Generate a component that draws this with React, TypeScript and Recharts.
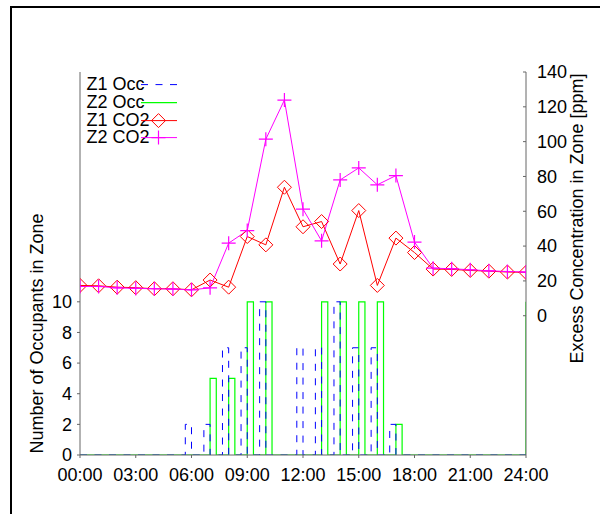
import React from 'react';
import { ComposedChart, Line, XAxis, YAxis, Legend } from 'recharts';

const FONT = '"Liberation Sans", Arial, Helvetica, sans-serif';

// x axis: minutes since midnight
const timeTicks = [0, 180, 360, 540, 720, 900, 1080, 1260, 1440];
const occTicks = [0, 2, 4, 6, 8, 10];
const co2Ticks = [0, 20, 40, 60, 80, 100, 120, 140];

const seriesNames = ['Z1 Occ', 'Z2 Occ', 'Z1 CO2', 'Z2 CO2'];

// occupancy step changes (minute of day, occupants)
const z1OccTimes = [0, 340, 360, 400, 420, 460, 480, 520, 540, 580, 600, 700, 720, 760, 780, 820, 840, 880, 900, 940, 960, 1000, 1020, 1440];
const z1OccValues = [0, 2, 0, 2, 0, 7, 0, 7, 0, 10, 0, 7, 0, 7, 0, 10, 0, 7, 0, 7, 0, 2, 0, 0];

const z2OccTimes = [0, 420, 440, 480, 500, 540, 560, 600, 620, 780, 800, 840, 860, 900, 920, 960, 980, 1020, 1040, 1440];
const z2OccValues = [0, 5, 0, 5, 0, 10, 0, 10, 0, 10, 0, 10, 0, 10, 0, 10, 0, 2, 0, 10];

// hourly excess CO2 concentration [ppm]
const co2Hours = [0, 1, 2, 3, 4, 5, 6, 7, 8, 9, 10, 11, 12, 13, 14, 15, 16, 17, 18, 19, 20, 21, 22, 23, 24];
const z1Co2 = [17.4, 17.2, 16.4, 16.1, 15.5, 15.5, 14.9, 20.5, 16.4, 45.5, 40.7, 73.8, 51.1, 54.1, 29.7, 60.4, 17.4, 44.6, 36.3, 26.8, 26.6, 26.0, 25.6, 25.1, 24.9];
const z2Co2 = [16.8, 16.8, 16.0, 15.7, 15.5, 15.3, 14.9, 16.0, 41.7, 48.9, 101.4, 123.9, 61.2, 43.0, 78.0, 84.9, 75.2, 80.5, 42.3, 27.3, 27.0, 26.4, 25.8, 25.4, 25.1];

const z1OccData = z1OccTimes.map((t, i) => ({ t, v: z1OccValues[i] }));
const z2OccData = z2OccTimes.map((t, i) => ({ t, v: z2OccValues[i] }));
const z1Co2Data = co2Hours.map((h, i) => ({ t: h * 60, v: z1Co2[i] }));
const z2Co2Data = co2Hours.map((h, i) => ({ t: h * 60, v: z2Co2[i] }));

const BLUE = '#0000ff';
const GREEN = '#00ff00';
const RED = '#ff0000';
const MAGENTA = '#ff00ff';
const AXIS = '#666666';
const DASH = '7 7.5';
const MR = 7;

const diamondPath = (cx: number, cy: number) =>
  `M${cx},${cy - MR}L${cx + MR},${cy}L${cx},${cy + MR}L${cx - MR},${cy}Z`;
const plusPath = (cx: number, cy: number) =>
  `M${cx - MR},${cy}H${cx + MR}M${cx},${cy - MR}V${cy + MR}`;

const renderDiamond = (p: any) => {
  const { cx, cy, index } = p;
  if (cx == null || cy == null) return <g key={`d${index}`} />;
  return <path key={`d${index}`} d={diamondPath(cx, cy)} fill="none" stroke={RED} strokeWidth={1} />;
};
const renderPlus = (p: any) => {
  const { cx, cy, index } = p;
  if (cx == null || cy == null) return <g key={`p${index}`} />;
  return <path key={`p${index}`} d={plusPath(cx, cy)} fill="none" stroke={MAGENTA} strokeWidth={1.2} />;
};

const fmtTime = (m: number) => `${String(Math.round(m / 60)).padStart(2, '0')}:00`;

const tickStyle = { fill: '#000', fontSize: 18, fontFamily: FONT };

const leftTitle = () => (
  <text
    x={36.7}
    y={333.5}
    transform="rotate(-90, 36.7, 333.5)"
    textAnchor="middle"
    dominantBaseline="central"
    fontSize={18}
    fontFamily={FONT}
    fill="#000"
  >
    Number of Occupants in Zone
  </text>
);
const rightTitle = () => (
  <text
    x={577}
    y={218.5}
    transform="rotate(-90, 577, 218.5)"
    textAnchor="middle"
    dominantBaseline="central"
    fontSize={18}
    fontFamily={FONT}
    fill="#000"
  >
    Excess Concentration in Zone [ppm]
  </text>
);

const LegendSample = ({ i }: { i: number }) => {
  const y = 8.6;
  if (i === 0) return <line x1={0} y1={y} x2={36} y2={y} stroke={BLUE} strokeWidth={1} strokeDasharray={DASH} />;
  if (i === 1) return <line x1={0} y1={y} x2={36} y2={y} stroke={GREEN} strokeWidth={1.2} />;
  if (i === 2)
    return (
      <g>
        <line x1={0} y1={y} x2={36} y2={y} stroke={RED} strokeWidth={1} />
        <path d={diamondPath(17.5, y)} fill="none" stroke={RED} strokeWidth={1} />
      </g>
    );
  return (
    <g>
      <line x1={0} y1={y} x2={36} y2={y} stroke={MAGENTA} strokeWidth={1} />
      <path d={plusPath(17.5, y)} fill="none" stroke={MAGENTA} strokeWidth={1.2} />
    </g>
  );
};

const renderLegend = () => (
  <div style={{ width: 120 }}>
    {seriesNames.map((name, i) => (
      <div key={name} style={{ position: 'relative', height: 17.6 }}>
        <span
          style={{
            position: 'absolute',
            left: 0,
            top: 0,
            fontSize: 18,
            lineHeight: '17.6px',
            fontFamily: FONT,
            color: '#000',
            whiteSpace: 'nowrap',
          }}
        >
          {name}
        </span>
        <svg
          width={36}
          height={17.6}
          style={{ position: 'absolute', left: 54.2, top: 0, overflow: 'visible' }}
        >
          <LegendSample i={i} />
        </svg>
      </div>
    ))}
  </div>
);

export default function App() {
  return (
    <div
      style={{
        position: 'absolute',
        left: 0,
        top: 0,
        width: 600,
        height: 514,
        overflow: 'hidden',
        background: '#fff',
      }}
    >
      <div
        style={{
          position: 'absolute',
          left: 10,
          top: 6,
          width: 640,
          height: 560,
          borderLeft: '2px solid #000',
          borderTop: '2px solid #000',
        }}
      />
      <div style={{ position: 'absolute', left: 0, top: 0 }}>
        <ComposedChart
          width={600}
          height={514}
          margin={{ top: 72, right: 14, bottom: 29, left: 40 }}
          style={{ fontFamily: FONT }}
        >
          <XAxis
            xAxisId="b"
            dataKey="t"
            type="number"
            domain={[0, 1440]}
            ticks={timeTicks}
            tickFormatter={fmtTime}
            allowDataOverflow
            interval={0}
            height={30}
            tickSize={3}
            tickMargin={10.5}
            stroke={AXIS}
            axisLine={{ stroke: AXIS }}
            tickLine={{ stroke: AXIS }}
            tick={tickStyle}
          />
          <XAxis
            xAxisId="top"
            dataKey="t"
            type="number"
            orientation="top"
            domain={[0, 1440]}
            ticks={timeTicks}
            allowDataOverflow
            interval={0}
            height={0}
            mirror
            tickSize={3}
            tick={false}
            stroke={AXIS}
            axisLine={{ stroke: AXIS }}
            tickLine={{ stroke: AXIS }}
          />
          <YAxis
            yAxisId="occ"
            type="number"
            domain={[0, 25]}
            ticks={occTicks}
            allowDataOverflow
            interval={0}
            width={40}
            tickSize={3}
            tickMargin={5}
            stroke={AXIS}
            axisLine={{ stroke: AXIS }}
            tickLine={{ stroke: AXIS }}
            tick={tickStyle}
            label={leftTitle}
          />
          <YAxis
            yAxisId="co2"
            orientation="right"
            type="number"
            domain={[-80, 140]}
            ticks={co2Ticks}
            allowDataOverflow
            interval={0}
            width={60}
            tickSize={-3}
            tickMargin={14}
            stroke={AXIS}
            axisLine={{ stroke: AXIS }}
            tickLine={{ stroke: AXIS }}
            tick={tickStyle}
            label={rightTitle}
          />
          <Legend
            layout="vertical"
            align="center"
            verticalAlign="middle"
            content={renderLegend}
            wrapperStyle={{ left: 86.5, top: 76.4, width: 120, height: 72 }}
          />
          <Line
            name={seriesNames[1]}
            data={z2OccData}
            dataKey="v"
            xAxisId="b"
            yAxisId="occ"
            type="stepAfter"
            stroke={GREEN}
            strokeWidth={1.2}
            dot={false}
            activeDot={false}
            isAnimationActive={false}
          />
          <Line
            name={seriesNames[0]}
            data={z1OccData}
            dataKey="v"
            xAxisId="b"
            yAxisId="occ"
            type="stepAfter"
            stroke={BLUE}
            strokeWidth={1}
            strokeDasharray={DASH}
            dot={false}
            activeDot={false}
            isAnimationActive={false}
          />
          <Line
            name={seriesNames[2]}
            data={z1Co2Data}
            dataKey="v"
            xAxisId="b"
            yAxisId="co2"
            type="linear"
            stroke={RED}
            strokeWidth={1}
            dot={renderDiamond}
            activeDot={false}
            isAnimationActive={false}
          />
          <Line
            name={seriesNames[3]}
            data={z2Co2Data}
            dataKey="v"
            xAxisId="b"
            yAxisId="co2"
            type="linear"
            stroke={MAGENTA}
            strokeWidth={1}
            dot={renderPlus}
            activeDot={false}
            isAnimationActive={false}
          />
        </ComposedChart>
      </div>
    </div>
  );
}
